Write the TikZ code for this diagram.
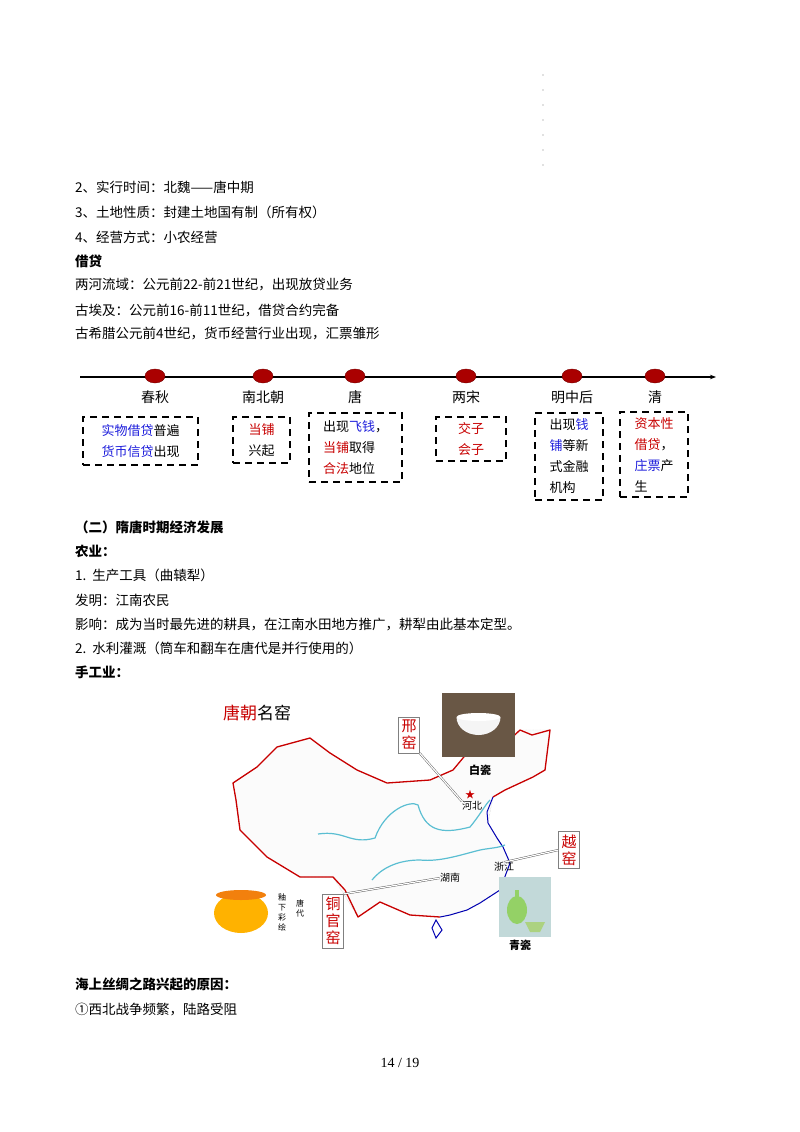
\documentclass[tikz,border=0pt]{standalone}
\usepackage{fontspec}
\setmainfont{Noto Sans CJK SC}
\newfontfamily\pgnum{Liberation Serif}
\usetikzlibrary{arrows.meta,shapes.geometric}
\definecolor{tlred}{RGB}{200,0,0}
\definecolor{tlblue}{RGB}{30,30,220}
\definecolor{rv}{RGB}{90,190,210}
\begin{document}
\begin{tikzpicture}[x=1pt,y=-1pt,
  body/.style={anchor=west,inner sep=0pt,font=\fontsize{13.5}{16}\selectfont},
  bodyb/.style={body,font=\fontsize{13.5}{16}\selectfont\bfseries},
  era/.style={inner sep=0pt,font=\fontsize{14}{16}\selectfont},
  dashbox/.style={draw,line width=2.4pt,dash pattern=on 7pt off 5pt,inner sep=0pt},
  boxtxt/.style={align=left,inner sep=0pt,font=\fontsize{13}{21}\selectfont},
  kiln/.style={draw=gray,fill=white,inner sep=3pt,text=tlred,align=center,font=\fontsize{15}{17}\selectfont},
  maptxt/.style={inner sep=0pt,font=\fontsize{10}{11}\selectfont},
  dot/.style={fill=tlred!85!black,draw=tlred!60!black,ellipse,minimum width=20pt,minimum height=14pt,inner sep=0pt}]
\useasboundingbox (0,0) rectangle (800,1132);
\fill[white] (0,0) rectangle (800,1132);
\foreach \yy in {75,90,...,170} \fill[gray] (543,\yy) circle (0.7);
\node[body] (t1) at (75,187) {2、实行时间：北魏——唐中期};
\node[body] (t2) at (75,212) {3、土地性质：封建土地国有制（所有权）};
\node[body] (t3) at (75,237) {4、经营方式：小农经营};
\node[bodyb] (t4) at (75,261) {借贷};
\node[body] (t5) at (75,285) {两河流域：公元前22-前21世纪，出现放贷业务};
\node[body] (t6) at (75,310) {古埃及：公元前16-前11世纪，借贷合约完备};
\node[body] (t7) at (75,334) {古希腊公元前4世纪，货币经营行业出现，汇票雏形};
\coordinate (ls) at (80,377); \coordinate (le) at (716,377);
\draw[line width=1.6pt,-{Stealth[length=6pt]}] (ls) -- (le);
\foreach \n/\xx/\lab in {a/155/春秋,b/263/南北朝,c/355/唐,d/466/两宋,e/572/明中后,f/655/清}{
  \node[dot] (d\n) at (\xx,376) {};
  \node[era] (l\n) at (\xx,397) {\lab};
}
\node[dashbox,minimum width=115pt,minimum height=48pt] (ba) at (140.5,441) {};
\node[boxtxt] at (ba) {\textcolor{tlblue}{实物借贷}普遍\\\textcolor{tlblue}{货币信贷}出现};
\node[dashbox,minimum width=57pt,minimum height=46pt] (bb) at (261.5,440) {};
\node[boxtxt] at (bb) {\textcolor{tlred}{当铺}\\兴起};
\node[dashbox,minimum width=93pt,minimum height=69pt] (bc) at (355.5,447.5) {};
\node[boxtxt] at (bc) {出现\textcolor{tlblue}{飞钱}，\\\textcolor{tlred}{当铺}取得\\\textcolor{tlred}{合法}地位};
\node[dashbox,minimum width=70pt,minimum height=44pt] (bd) at (471,439) {};
\node[boxtxt,text=tlred] at (bd) {交子\\会子};
\node[dashbox,minimum width=68pt,minimum height=87pt] (be) at (569,456.5) {};
\node[boxtxt] at (be) {出现\textcolor{tlblue}{钱}\\\textcolor{tlblue}{铺}等新\\式金融\\机构};
\node[dashbox,minimum width=68pt,minimum height=85pt] (bf) at (654,454.5) {};
\node[boxtxt] at (bf) {\textcolor{tlred}{资本性}\\\textcolor{tlred}{借贷}，\\\textcolor{tlblue}{庄票}产\\生};
\node[bodyb] (s1) at (75,527) {（二）隋唐时期经济发展};
\node[bodyb] (s2) at (75,551) {农业：};
\node[body] (s3) at (75,575) {1.\ \ 生产工具（曲辕犁）};
\node[body] (s4) at (75,600) {发明：江南农民};
\node[body] (s5) at (75,624) {影响：成为当时最先进的耕具，在江南水田地方推广，耕犁由此基本定型。};
\node[body] (s6) at (75,648) {2.\ \ 水利灌溉（筒车和翻车在唐代是并行使用的）};
\node[bodyb] (s7) at (75,672) {手工业：};
\draw[gray!50,densely dotted,fill=gray!3] (233,783) -- (257,767) -- (277,747) -- (310,738) -- (330,753) -- (357,770) -- (387,783) -- (430,780) -- (453,770) -- (468,752) -- (505,744) -- (520,730) -- (550,730) -- (545,770) -- (533,777) -- (505,790) -- (493,797) -- (488,823) -- (503,847) -- (510,863) -- (500,890) -- (467,910) -- (440,917) -- (410,915) -- (380,902) -- (358,917) -- (333,877) -- (300,877) -- (267,857) -- (240,830) -- cycle;
\draw[tlred,line width=1.3pt,line join=round] (493,797) -- (505,790) -- (533,777) -- (545,770) -- (550,730) -- (532,735) -- (520,730) -- (505,744) -- (488,745) -- (468,752) -- (453,770) -- (430,780) -- (387,783) -- (357,770) -- (330,753) -- (310,738) -- (277,747) -- (257,767) -- (233,783) -- (236,800) -- (240,830) -- (267,857) -- (300,877) -- (333,877) -- (345,890) -- (358,917) -- (380,902) -- (410,915) -- (440,917);
\draw[blue!70!black,line width=1pt,line join=round] (493,797) -- (487,812) -- (488,823) -- (497,838) -- (503,847) -- (510,863) -- (500,890) -- (480,903) -- (467,910) -- (450,915) -- (440,917);
\draw[blue!70!black,line width=1pt] (436,920) -- (442,930) -- (436,938) -- (432,928) -- cycle;
\draw[rv,line width=1.2pt] (318,834) .. controls (345,830) and (350,845) .. (375,838) .. controls (385,810) and (410,800) .. (418,805) .. controls (425,830) and (440,835) .. (470,827) .. controls (480,815) and (485,805) .. (490,800);
\draw[rv,line width=1.2pt] (372,880) .. controls (380,870) and (395,860) .. (420,860) .. controls (440,862) and (460,855) .. (480,850) .. controls (490,848) and (498,848) .. (505,845);
\node[inner sep=0pt,anchor=west,font=\fontsize{17}{19}\selectfont] (mt) at (223,713) {\textcolor{tlred}{唐朝}名窑};
\node[draw=none,fill=brown!35!black!80,minimum width=73pt,minimum height=64pt,inner sep=0pt] (img1) at (478.5,725) {};
\fill[white!92!gray] (img1.center) ++(-22,-8) arc (180:0:22 and 18) -- cycle;
\fill[white] (img1.center) ++(0,-8) ellipse (22 and 4);
\node[fill=gray!40!teal!30,minimum width=52pt,minimum height=60pt,inner sep=0pt] (img2) at (525,907) {};
\fill[green!40!olive!60] (515,890) rectangle (519,905);
\fill[green!40!olive!60] (517,910) ellipse (10 and 14);
\fill[green!30!olive!50] (525,922) -- (545,922) -- (540,932) -- (530,932) -- cycle;
\node[fill=orange!60!yellow,ellipse,minimum width=54pt,minimum height=40pt,inner sep=0pt] (img3) at (241,913) {};
\fill[orange!80!brown] (241,895) ellipse (25 and 5);
\node[maptxt,font=\fontsize{11}{12}\selectfont\bfseries] (bc1) at (480,770) {白瓷};
\node[maptxt,font=\fontsize{11}{12}\selectfont\bfseries] (qc) at (520,945) {青瓷};
\node[maptxt] (hb) at (472,806) {河北};
\node[maptxt] (zj) at (504,867) {浙江};
\node[maptxt] (hn) at (450,878) {湖南};
\node[text=tlred,font=\fontsize{10}{10}\selectfont,inner sep=0pt] (star) at (470,795) {★};
\node[maptxt,align=center,font=\fontsize{8}{10}\selectfont] (yx) at (282,912) {釉\\下\\彩\\绘};
\node[maptxt,align=center,font=\fontsize{8}{10}\selectfont] (td) at (300,908) {唐\\代};
\node[kiln] (xy) at (409,735) {邢\\窑};
\node[kiln] (yy) at (569,850) {越\\窑};
\node[kiln] (tg) at (333,921) {铜\\官\\窑};
\draw[gray!60!black,double=white,double distance=1.2pt,line width=0.4pt] (xy.south east) -- (hb.north west);
\draw[gray!60!black,double=white,double distance=1.2pt,line width=0.4pt] (yy.west) -- (zj.north);
\draw[gray!60!black,double=white,double distance=1.2pt,line width=0.4pt] (tg.north east) -- (hn.west);
\node[bodyb] (u1) at (75,984) {海上丝绸之路兴起的原因：};
\node[body] (u2) at (75,1009) {①西北战争频繁，陆路受阻};
\node[inner sep=0pt,font=\pgnum\fontsize{14}{16}\selectfont] (pg) at (400,1063) {14\ /\ 19};
\end{tikzpicture}
\end{document}
